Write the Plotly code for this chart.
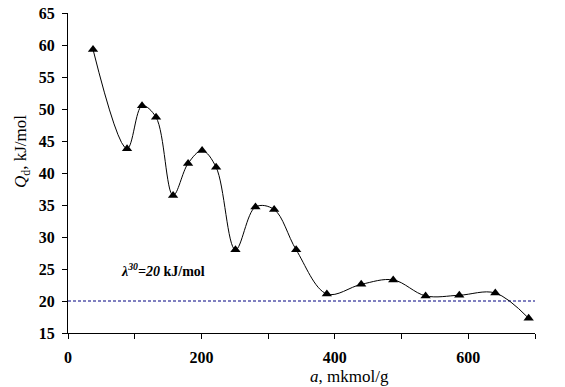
import plotly.graph_objects as go

a_vals = [37.5, 88.5, 111, 132, 157.5, 180, 201, 222, 251, 281, 309, 342, 388, 439.5, 487.5, 536, 586.5, 640.5, 690.5]
q_vals = [59.3, 43.8, 50.5, 48.7, 36.5, 41.5, 43.5, 40.9, 28.0, 34.7, 34.3, 28.0, 21.1, 22.6, 23.3, 20.8, 20.9, 21.25, 17.3]
ref_level = 20
x_tick_vals = [0, 100, 200, 300, 400, 500, 600, 700]
x_tick_text = ["0", "", "200", "", "400", "", "600", ""]
y_tick_vals = [15, 20, 25, 30, 35, 40, 45, 50, 55, 60, 65]

FONT = "Liberation Serif, Times New Roman, serif"

# the page body has an 8px margin; size the figure so the plot lands where the reference has it
OFF = 8
W, H = 565 - OFF, 387 - OFF
L, R, T, B = 68 - OFF, 30, 13 - OFF, 54
pw, ph = W - L - R, H - T - B


def px_to_paper(px, py):
    # px, py are page pixel positions in the reference
    return (px - OFF - L) / pw, (H - B - (py - OFF)) / ph


fig = go.Figure()
fig.add_trace(go.Scatter(
    x=[0, 700], y=[ref_level, ref_level], mode="lines",
    line=dict(color="#000080", width=1, dash="3px,2px"),
    hoverinfo="skip", showlegend=False,
))
fig.add_trace(go.Scatter(
    x=a_vals, y=q_vals, mode="lines+markers",
    line=dict(color="black", width=1, shape="spline", smoothing=1),
    marker=dict(symbol="triangle-up", size=9, color="black"),
    showlegend=False,
))

fig.add_annotation(
    x=76, y=24.9, xref="x", yref="y", xanchor="left", yanchor="middle",
    text="<b><i>λ<sup>30</sup>=20</i> kJ/mol</b>", showarrow=False,
    font=dict(family=FONT, size=14, color="black"),
)
xt_x, xt_y = px_to_paper(349, 376)
fig.add_annotation(
    x=xt_x, y=xt_y, xref="paper", yref="paper", xanchor="center", yanchor="middle",
    showarrow=False, text="<i>a</i>, mkmol/g",
    font=dict(family=FONT, size=17, color="black"),
)
yt_x, yt_y = px_to_paper(22, 152)
fig.add_annotation(
    x=yt_x, y=yt_y, xref="paper", yref="paper", xanchor="center", yanchor="middle",
    showarrow=False, textangle=-90, text="<i>Q</i><sub>d</sub>, kJ/mol",
    font=dict(family=FONT, size=17, color="black"),
)

fig.update_layout(
    width=W, height=H,
    margin=dict(l=L, r=R, t=T, b=B, autoexpand=False),
    paper_bgcolor="white", plot_bgcolor="white",
    font=dict(family=FONT, color="black"),
)
fig.update_xaxes(
    range=[0, 700], tickvals=x_tick_vals, ticktext=x_tick_text, automargin=False,
    ticks="outside", ticklen=5, tickwidth=1, tickcolor="black", ticklabelstandoff=5,
    ticklabeloverflow="allow",
    showline=True, linecolor="black", linewidth=1, showgrid=False, zeroline=False,
    tickfont=dict(family=FONT, size=16, color="black", weight="bold"),
)
fig.update_yaxes(
    range=[15, 65], tickvals=y_tick_vals, automargin=False,
    ticks="outside", ticklen=5, tickwidth=1, tickcolor="black", ticklabelstandoff=4,
    ticklabeloverflow="allow",
    showline=True, linecolor="black", linewidth=1, showgrid=False, zeroline=False,
    tickfont=dict(family=FONT, size=16, color="black", weight="bold"),
)

fig.write_html("out.html")
